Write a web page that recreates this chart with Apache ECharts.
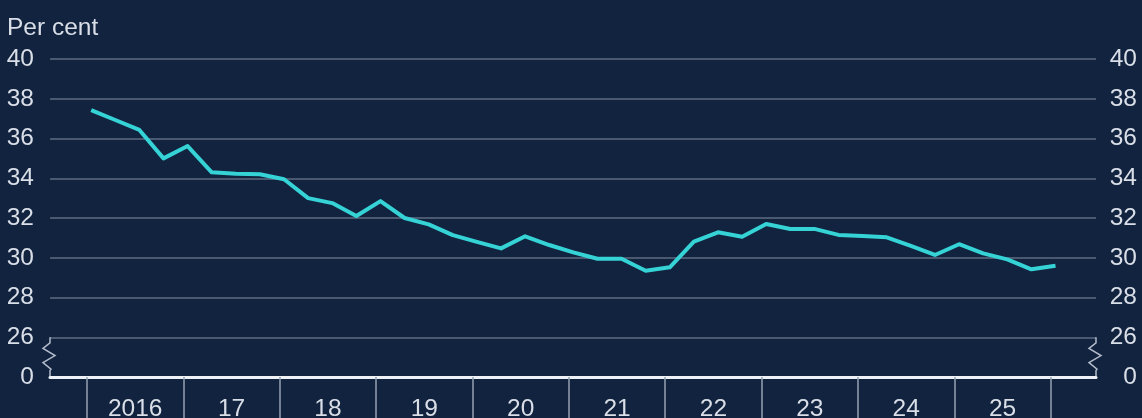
<!DOCTYPE html>
<html>
<head>
<meta charset="utf-8">
<script src="https://cdn.jsdelivr.net/npm/echarts@6/dist/echarts.min.js"></script>
<style>
html,body{margin:0;padding:0;background:#11233f;}
#c{width:1142px;height:418px;}
</style>
</head>
<body>
<div id="c"></div>
<script>
// Data: quarterly values, first point is 2016 Q1
var startYear = 2016;
var values = [37.43, 36.93, 36.43, 35.0, 35.62, 34.3, 34.23, 34.2, 33.95, 33.0, 32.75, 32.1, 32.85, 32.0, 31.68, 31.14, 30.8, 30.47, 31.08, 30.64, 30.27, 29.95, 29.95, 29.35, 29.52, 30.81, 31.28, 31.06, 31.7, 31.45, 31.45, 31.15, 31.09, 31.03, 30.6, 30.14, 30.68, 30.22, 29.92, 29.42, 29.6];
var yearLabels = ['2016', '17', '18', '19', '20', '21', '22', '23', '24', '25'];
var yTickValues = [24, 26, 28, 30, 32, 34, 36, 38, 40];
var brokenBase = 24;   // axis value shown as "0" (broken axis)
var yAxisTitle = 'Per cent';

var textColor = '#d9dee7';
var gridColor = '#5e6c82';
var font = 'Liberation Sans, Arial, sans-serif';
var fs = 24.5;

var seriesData = values.map(function (v, i) {
  return [startYear + i / 4 + 0.04, v];
});

var chart = echarts.init(document.getElementById('c'));

function yLabel(v) { return v === brokenBase ? '0' : String(v); }

var option = {
  backgroundColor: '#11233f',
  animation: false,
  grid: [
    { left: 50, right: 46, top: 59, bottom: 41, outerBoundsMode: 'none', containLabel: false },
    { left: 87, right: 91.3, top: 59, bottom: 41, outerBoundsMode: 'none', containLabel: false }
  ],
  xAxis: [
    {
      type: 'value', gridIndex: 0, min: 2015.613, max: 2026.46,
      axisLine: { show: true, lineStyle: { color: '#eef1f5', width: 3 } },
      axisTick: { show: false }, axisLabel: { show: false }, splitLine: { show: false }
    },
    {
      type: 'category', gridIndex: 1, data: yearLabels, boundaryGap: true,
      axisLine: { show: false },
      axisTick: { show: true, interval: 0, length: 42, lineStyle: { color: '#97a2b3', width: 1.5 } },
      axisLabel: { color: textColor, fontSize: fs, fontFamily: font, margin: 20, interval: 0 },
      splitLine: { show: false }
    }
  ],
  yAxis: [
    {
      type: 'value', gridIndex: 0, min: 24, max: 40, interval: 2, position: 'left',
      axisLine: { show: false }, axisTick: { show: false },
      axisLabel: { color: textColor, fontSize: fs, fontFamily: font, margin: 16, formatter: yLabel },
      splitLine: { show: true, lineStyle: { color: gridColor, width: 1.5 } }
    },
    {
      type: 'value', gridIndex: 0, min: 24, max: 40, interval: 2, position: 'right',
      axisLine: { show: false }, axisTick: { show: false },
      axisLabel: { color: textColor, fontSize: fs, fontFamily: font, margin: 41, align: 'right', formatter: yLabel },
      splitLine: { show: false }
    },
    {
      type: 'value', gridIndex: 1, min: 0, max: 1, show: false
    }
  ],
  series: [
    {
      type: 'line', xAxisIndex: 0, yAxisIndex: 0, data: seriesData,
      showSymbol: false, symbol: 'none',
      lineStyle: { color: '#36d3d6', width: 4, join: 'round' }
    }
  ]
};
chart.setOption(option);

// Axis-break zigzags at both ends between 24 ("0") and 26
function zigzag(xPix) {
  var yTop = chart.convertToPixel({ yAxisIndex: 0 }, 26);
  var yBot = chart.convertToPixel({ yAxisIndex: 0 }, 24);
  var h = yBot - yTop;
  return [
    [xPix, yTop], [xPix, yTop + h * 0.14], [xPix - 7, yTop + h * 0.28],
    [xPix + 5, yTop + h * 0.46], [xPix - 7, yTop + h * 0.64],
    [xPix + 1, yTop + h * 0.8], [xPix, yTop + h * 0.84], [xPix, yBot]
  ];
}
var xl = chart.convertToPixel({ xAxisIndex: 0 }, 2015.613);
var xr = chart.convertToPixel({ xAxisIndex: 0 }, 2026.46);
chart.setOption({
  graphic: [
    { type: 'text', left: 7, top: 16, style: { text: yAxisTitle, fill: textColor, fontSize: fs, fontFamily: font } },
    { type: 'polyline', shape: { points: zigzag(xl) }, style: { stroke: '#b4bccb', lineWidth: 1.5, fill: null } },
    { type: 'polyline', shape: { points: zigzag(xr) }, style: { stroke: '#b4bccb', lineWidth: 1.5, fill: null } }
  ]
});
</script>
</body>
</html>
